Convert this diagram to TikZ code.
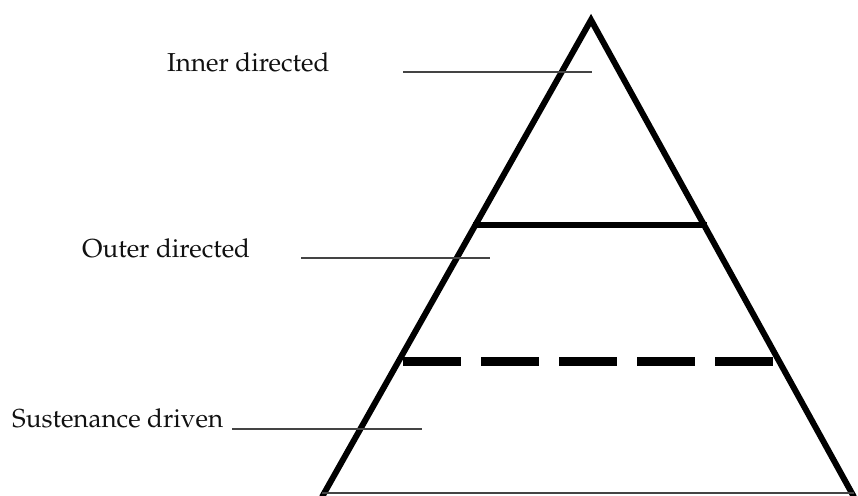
\documentclass[tikz,border=0pt]{standalone}
\usepackage[T1]{fontenc}
\usepackage{palatino}
\definecolor{ink}{HTML}{111111}
\definecolor{rule}{HTML}{444444}
\tikzset{
  side/.style={draw=black, line width=6pt, line join=miter},
  tier/.style={draw=black, line width=6pt},
  tierdash/.style={draw=black, line width=9pt, dash pattern=on 58pt off 20pt},
  leader/.style={draw=rule, line width=1.4pt},
  lbl/.style={font=\fontsize{26}{30}\selectfont, text=ink, anchor=base west, inner sep=0pt}
}
\begin{document}
\begin{tikzpicture}[x=1pt, y=-1pt]
\useasboundingbox (0,0) rectangle (858,495);

% Pyramid
\coordinate (apex) at (591,20);
\coordinate (bl) at (322,497);
\coordinate (br) at (854,497);
\draw[side] (bl) -- (apex) -- (br);
\coordinate (bl0) at (322,493);
\coordinate (br0) at (854,493);
\draw[leader] (bl0) -- (br0);

% Tiers
\coordinate (t1l) at (473,225);
\coordinate (t1r) at (707,225);
\draw[tier] (t1l) -- (t1r);
\coordinate (t2l) at (403,361);
\coordinate (t2r) at (773,361);
\draw[tierdash] (t2l) -- (t2r);

% Labels
\node[lbl] (inner) at (167,71) {Inner directed};
\coordinate (in1) at (403,72);
\coordinate (in2) at (592,72);
\draw[leader] (in1) -- (in2);

\node[lbl] (outer) at (82,257) {Outer directed};
\coordinate (out1) at (301,258);
\coordinate (out2) at (490,258);
\draw[leader] (out1) -- (out2);

\node[lbl] (sust) at (12,427) {Sustenance driven};
\coordinate (su1) at (232,429);
\coordinate (su2) at (422,429);
\draw[leader] (su1) -- (su2);

\end{tikzpicture}
\end{document}
